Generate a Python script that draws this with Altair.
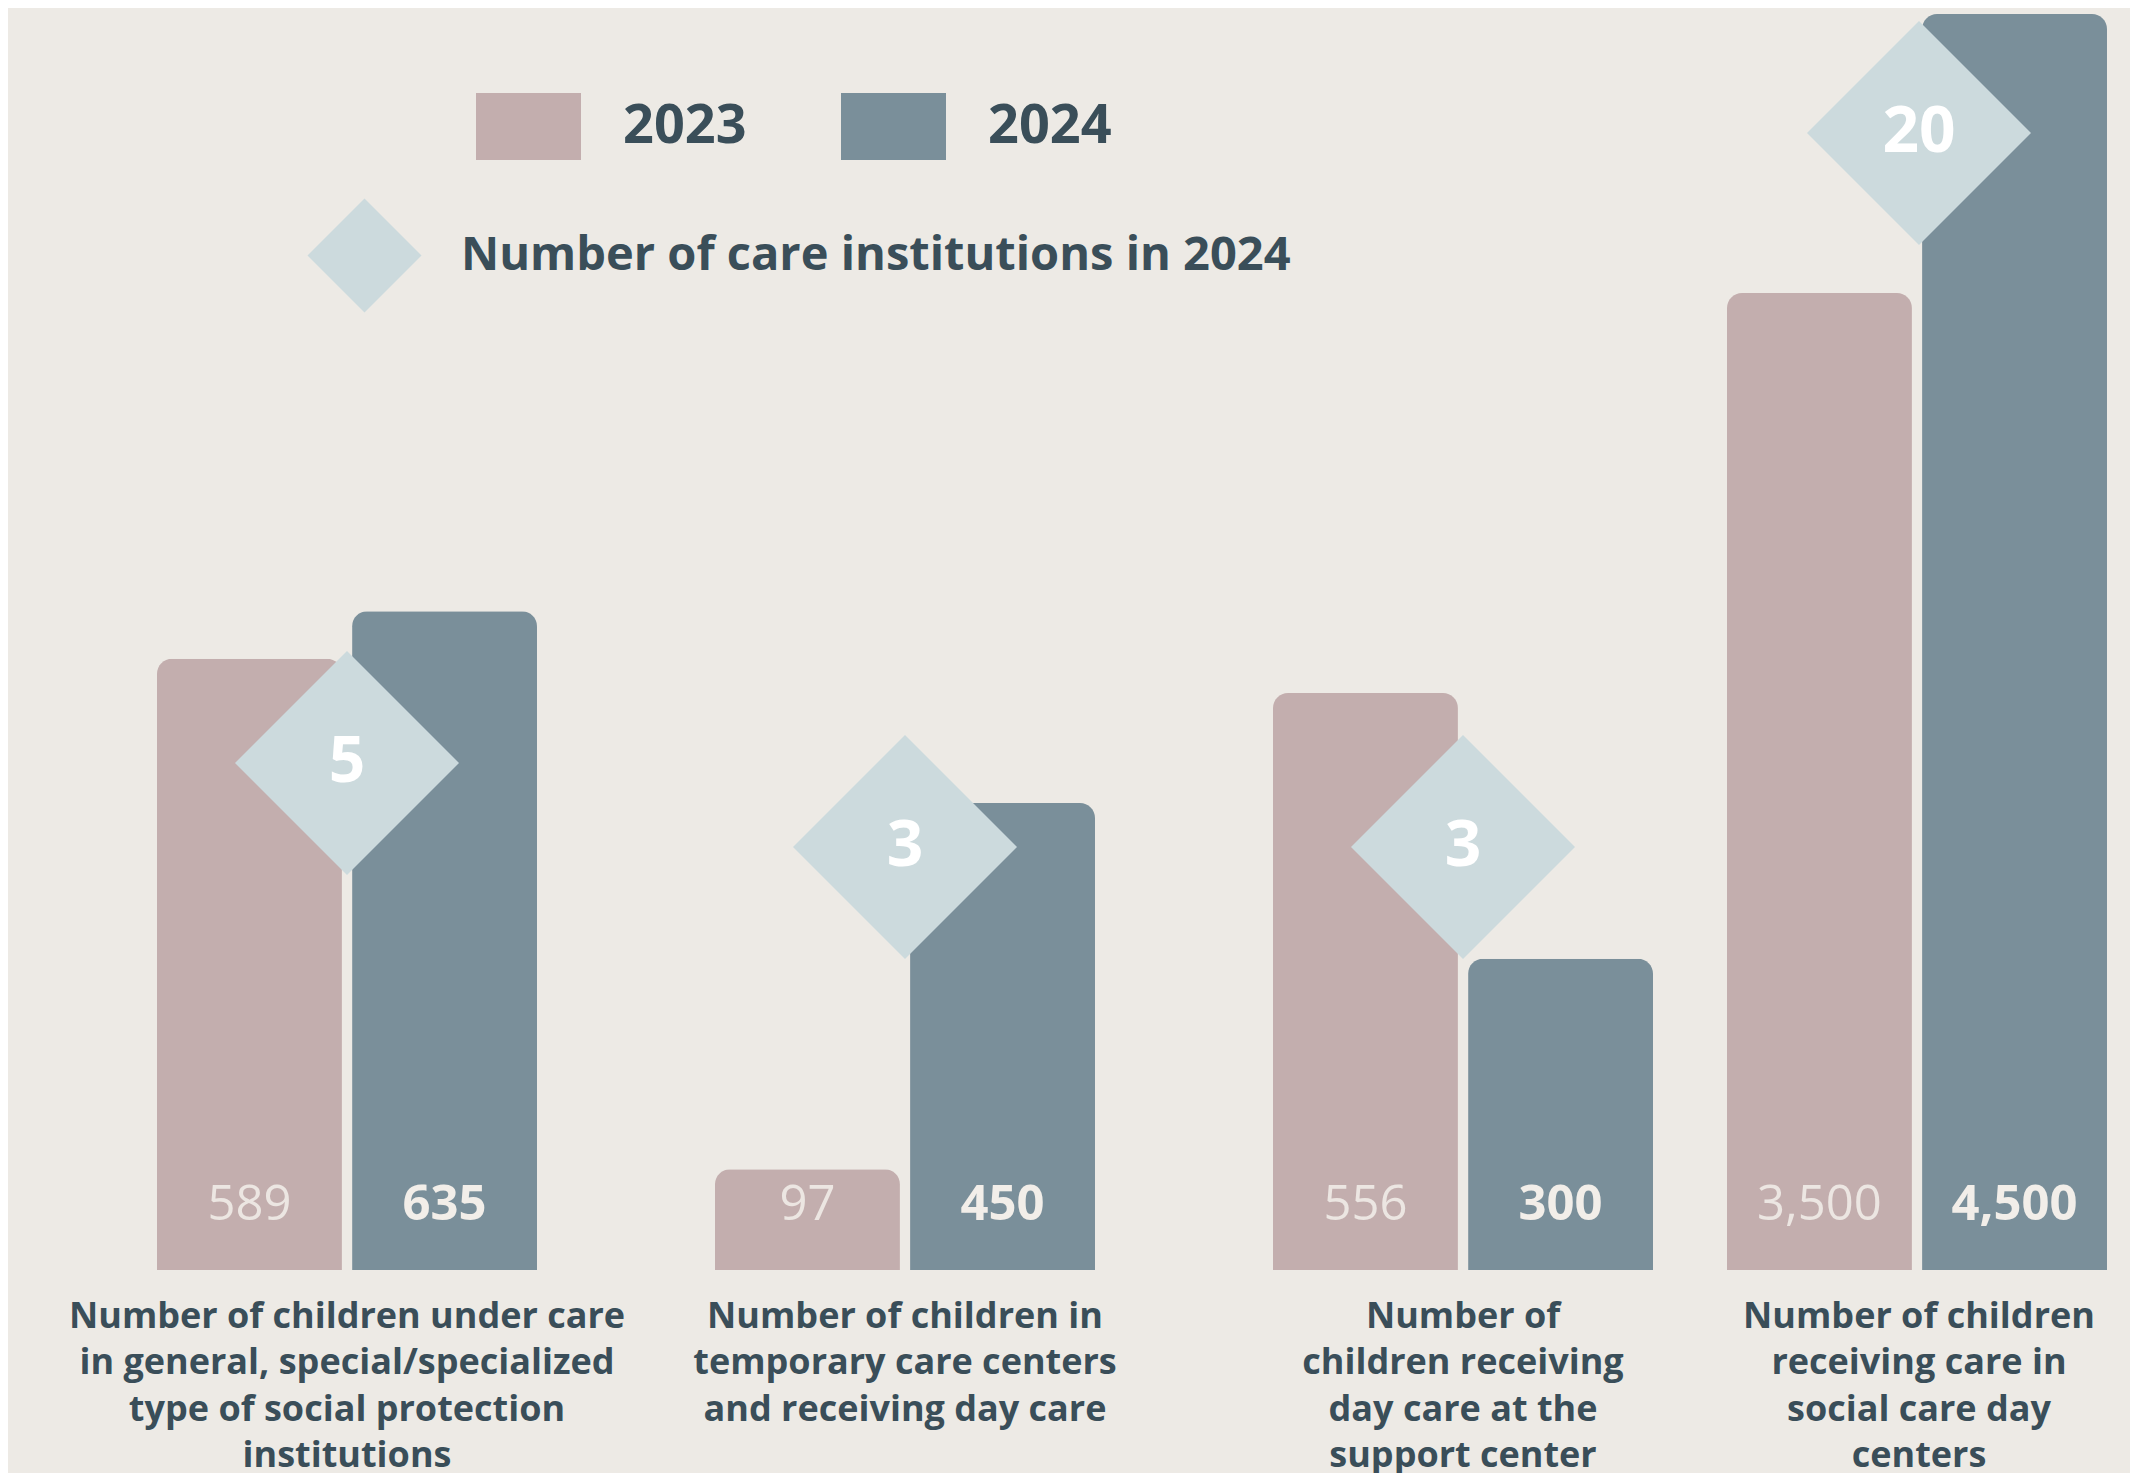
import altair as alt
import pandas as pd

# ---------------- data ----------------
category_lines = [
    ["Number of children under care", "in general, special/specialized", "type of social protection", "institutions"],
    ["Number of children in", "temporary care centers", "and receiving day care"],
    ["Number of", "children receiving", "day care at the", "support center"],
    ["Number of children", "receiving care in", "social care day", "centers"],
]
years = ["2023", "2024"]
values_2023 = [589, 97, 556, 3500]
values_2024 = [635, 450, 300, 4500]
institutions_2024 = [5, 3, 3, 20]
institutions_label = "Number of care institutions in 2024"

categories = ["\n".join(lines) for lines in category_lines]

rows = []
for c, v in zip(categories, values_2023):
    rows.append({"category": c, "year": "2023", "value": v, "label": f"{v:,}"})
for c, v in zip(categories, values_2024):
    rows.append({"category": c, "year": "2024", "value": v, "label": f"{v:,}"})
bars_df = pd.DataFrame(rows)
diam_df = pd.DataFrame({"category": categories, "count": institutions_2024,
                        "series": [institutions_label] * len(categories)})

# ---------------- style ----------------
FONT = "Open Sans"
BG = "#edeae5"
DARK = "#3a4e59"
C2023 = "#c3aeae"
C2024 = "#7a8f9a"
DIAMOND = "#ccdadd"
PLOT_H = 1256

color_scale = alt.Scale(domain=years, range=[C2023, C2024])
shape_scale = alt.Scale(domain=[institutions_label], range=["diamond"])
diam_y_scale = alt.Scale(domain=[-7.07, 22.83], nice=False, zero=False)


def panel(cats, ymax, width, inner):
    b = bars_df[bars_df["category"].isin(cats)]
    d = diam_df[diam_df["category"].isin(cats)]
    x = alt.X(
        "category:N", sort=cats, title=None,
        scale=alt.Scale(paddingInner=inner, paddingOuter=0),
        axis=alt.Axis(
            labelExpr="split(datum.label, '\\n')", labelAngle=0,
            labelFont=FONT, labelFontSize=36, labelFontWeight="bold",
            labelColor=DARK, labelLineHeight=46.5, labelPadding=29,
            labelBaseline="top", labelLimit=2000, labelOverlap=False,
            labelFlush=False, domain=False, ticks=False, grid=False,
        ),
    )
    xo = alt.XOffset("year:N", scale=alt.Scale(domain=years, paddingInner=0.052, paddingOuter=0))
    ys = alt.Scale(domain=[0, ymax], nice=False, zero=True)

    bar = alt.Chart(b).mark_bar(cornerRadiusTopLeft=15, cornerRadiusTopRight=15).encode(
        x=x, xOffset=xo,
        y=alt.Y("value:Q", scale=ys, axis=None),
        color=alt.Color(
            "year:N", scale=color_scale,
            legend=alt.Legend(
                orient="none", legendX=319, legendY=60, direction="horizontal",
                columns=2, title=None, padding=0,
                symbolType="M-1,-0.638L1,-0.638L1,0.638L-1,0.638Z",
                symbolSize=11025, symbolStrokeWidth=0, symbolOpacity=1,
                labelFont=FONT, labelFontSize=54, labelFontWeight="bold",
                labelColor=DARK, labelOffset=42, columnPadding=94, labelLimit=2000,
            ),
        ),
    )
    txt_a = alt.Chart(b).transform_filter(alt.datum.year == "2023").mark_text(
        font=FONT, fontSize=49, fontWeight="normal", color="#ece6e2",
        baseline="alphabetic", dy=-50,
    ).encode(x=x, xOffset=xo, y=alt.YDatum(datum=0, type="quantitative", scale=ys, axis=None),
             text="label:N")
    txt_b = alt.Chart(b).transform_filter(alt.datum.year == "2024").mark_text(
        font=FONT, fontSize=49, fontWeight="bold", color="#f2eee9",
        baseline="alphabetic", dy=-50,
    ).encode(x=x, xOffset=xo, y=alt.YDatum(datum=0, type="quantitative", scale=ys, axis=None),
             text="label:N")
    dia = alt.Chart(d).mark_point(filled=True, size=50176, opacity=1, strokeWidth=0, color=DIAMOND).encode(
        x=x,
        y=alt.Y("count:Q", scale=diam_y_scale, axis=None),
        shape=alt.Shape(
            "series:N", scale=shape_scale,
            legend=alt.Legend(
                orient="none", legendX=150, legendY=184, title=None, padding=0,
                symbolSize=13000, symbolFillColor="#bdcccf", symbolStrokeWidth=0,
                symbolOpacity=1, labelFont=FONT, labelFontSize=47,
                labelFontWeight="bold", labelColor=DARK, labelOffset=39, labelLimit=2000,
            ),
        ),
    )
    dtxt = alt.Chart(d).mark_text(
        font=FONT, fontSize=64, fontWeight="bold", color="#ffffff", baseline="middle",
    ).encode(x=x, y=alt.Y("count:Q", scale=diam_y_scale, axis=None), text="count:Q")

    return alt.layer(bar, txt_a, txt_b, dia, dtxt).resolve_scale(y="independent").properties(
        width=width, height=PLOT_H
    )


left = panel(categories[:3], 1210.5, 1496, 0.319)
right = panel(categories[3:], 4500, 384, 0.0)

chart = alt.hconcat(left, right, spacing=74).properties(
    background=BG,
    padding={"left": 60, "top": 6, "right": 19, "bottom": 0},
).configure_view(stroke=None).configure_concat(spacing=74)

chart.save("out.html", embed_options={"renderer": "svg", "actions": False})
